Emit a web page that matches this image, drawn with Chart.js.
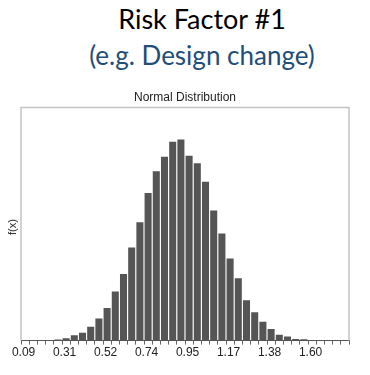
<!DOCTYPE html>
<html lang="en">
<head>
    <meta charset="UTF-8">
    <title>Risk Factor #1</title>
    <script src="https://cdn.jsdelivr.net/npm/chart.js"></script>
    <style>
        * {
            margin: 0;
            padding: 0;
            box-sizing: border-box;
        }

        body {
            width: 370px;
            height: 375px;
            overflow: hidden;
            background: #fff;
            position: relative;
            font-family: 'Lato', sans-serif;
        }

        /* Slide heading */
        .heading {
            position: absolute;
            left: 17px;
            width: 370px;
            text-align: center;
            white-space: nowrap;
        }

        .heading.main {
            top: 2px;
            font-size: 27px;
            color: #000;
        }

        .heading.sub {
            top: 39px;
            font-size: 26px;
            color: #1f4e79;
        }

        .chart-box {
            position: absolute;
            left: 0;
            top: 85px;
            width: 378px;
            height: 290px;
        }

        /* y axis name, rotated */
        .y-name {
            position: absolute;
            left: 12px;
            top: 227px;
            transform: translate(-50%, -50%) rotate(-90deg);
            font-family: 'Liberation Sans Narrow', 'Liberation Sans', Arial, sans-serif;
            font-size: 11px;
            color: #222;
        }
    </style>
</head>
<body>
    <div class="heading main">Risk Factor #1</div>
    <div class="heading sub">(e.g. Design change)</div>

    <div class="chart-box">
        <canvas id="histChart"></canvas>
    </div>
    <div class="y-name">f(x)</div>

    <script>
        // f(x) per bin (40 bins of width 0.043 starting at 0.09)
        const density = [
            0, 0, 0, 0, 0.010, 0.023, 0.053, 0.079, 0.138, 0.221,
            0.326, 0.491, 0.665, 0.929, 1.182, 1.475, 1.692, 1.837, 1.986, 2.009,
            1.847, 1.771, 1.587, 1.301, 1.070, 0.820, 0.622, 0.402, 0.283, 0.188,
            0.115, 0.059, 0.040, 0.016, 0.013, 0.007, 0, 0, 0, 0
        ];

        // labels shown at every 5th bin edge
        const tickLabels = ['0.09', '0.31', '0.52', '0.74', '0.95', '1.17', '1.38', '1.60'];

        const narrow = "'Liberation Sans Narrow', 'Liberation Sans', Arial, sans-serif";

        // light grey frame on left, top and right of the plot
        const frame = {
            id: 'frame',
            afterDraw(chart) {
                const a = chart.chartArea;
                const ctx = chart.ctx;
                ctx.save();
                ctx.strokeStyle = '#c4c4c4';
                ctx.lineWidth = 1.5;
                ctx.beginPath();
                ctx.moveTo(a.left, a.bottom);
                ctx.lineTo(a.left, a.top);
                ctx.lineTo(a.right, a.top);
                ctx.lineTo(a.right, a.bottom);
                ctx.stroke();
                ctx.restore();
            }
        };

        new Chart(document.getElementById('histChart'), {
            type: 'bar',
            data: {
                labels: density.map((_, i) => i),
                datasets: [{
                    data: density,
                    backgroundColor: '#555555',
                    barPercentage: 1,
                    categoryPercentage: 0.86
                }]
            },
            options: {
                responsive: true,
                maintainAspectRatio: false,
                animation: false,
                layout: {
                    padding: { left: 21, right: 29, top: 0, bottom: 14 }
                },
                plugins: {
                    legend: { display: false },
                    tooltip: { enabled: false },
                    title: {
                        display: true,
                        text: 'Normal Distribution',
                        color: '#222',
                        font: { family: narrow, size: 12, weight: 'normal' },
                        padding: { top: 5, bottom: 3 }
                    }
                },
                scales: {
                    x: {
                        offset: true,
                        grid: {
                            offset: true,
                            drawOnChartArea: false,
                            drawTicks: true,
                            tickLength: 4,
                            color: '#666'
                        },
                        border: { display: true, color: '#555', width: 1 },
                        ticks: {
                            autoSkip: false,
                            maxRotation: 0,
                            padding: 1,
                            color: '#222',
                            font: { family: narrow, size: 12 },
                            labelOffset: -1.5,
                            callback: (v, i) => (i % 5 === 0 ? tickLabels[i / 5] : '')
                        }
                    },
                    y: {
                        display: false,
                        min: 0,
                        max: 2.33
                    }
                }
            },
            plugins: [frame]
        });
    </script>
</body>
</html>
